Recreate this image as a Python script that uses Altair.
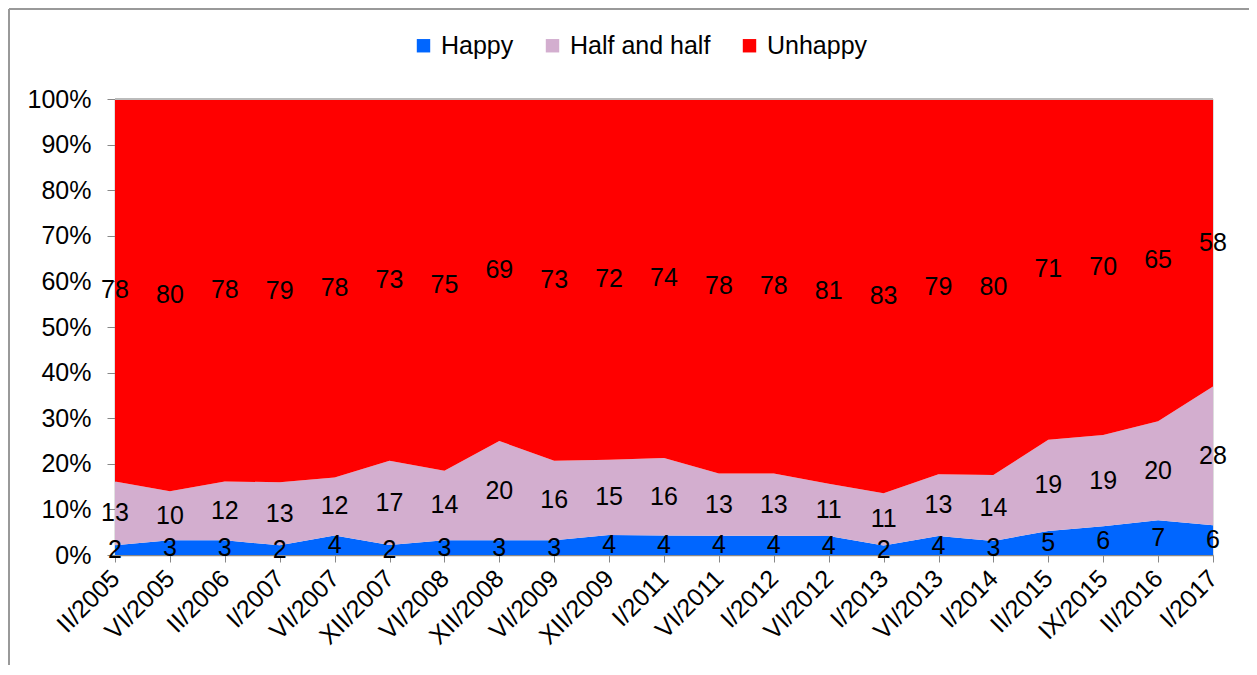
import altair as alt
import pandas as pd

categories = ["II/2005", "VI/2005", "II/2006", "I/2007", "VI/2007", "XII/2007", "VI/2008",
              "XII/2008", "VI/2009", "XII/2009", "I/2011", "VI/2011", "I/2012", "VI/2012",
              "I/2013", "VI/2013", "I/2014", "II/2015", "IX/2015", "II/2016", "I/2017"]
happy = [2, 3, 3, 2, 4, 2, 3, 3, 3, 4, 4, 4, 4, 4, 2, 4, 3, 5, 6, 7, 6]
half = [13, 10, 12, 13, 12, 17, 14, 20, 16, 15, 16, 13, 13, 11, 11, 13, 14, 19, 19, 20, 28]
unhappy = [78, 80, 78, 79, 78, 73, 75, 69, 73, 72, 74, 78, 78, 81, 83, 79, 80, 71, 70, 65, 58]

series_names = ["Happy", "Half and half", "Unhappy"]
series_values = [happy, half, unhappy]
colors = ["#0066FF", "#D3AECF", "#FF0000"]

rows = []
for i, cat in enumerate(categories):
    total = sum(s[i] for s in series_values)
    cum = 0
    for k, (name, vals) in enumerate(zip(series_names, series_values)):
        v = vals[i]
        rows.append({"cat": cat, "series": name, "order": k, "value": v,
                     "mid": (cum + v / 2) / total})
        cum += v
df = pd.DataFrame(rows)

FONT = "Liberation Sans"
W, H = 1098, 456

x_enc = alt.X("cat:N", sort=categories,
              scale=alt.Scale(type="point", padding=0),
              axis=alt.Axis(title=None, labelAngle=-45, labelAlign="right",
                            labelBaseline="middle", labelFontSize=25, labelColor="black",
                            labelPadding=12, tickSize=7, tickColor="#888888",
                            domainColor="#888888", domainWidth=1.5, labelFont=FONT))

area = alt.Chart(df).mark_area(opacity=1).encode(
    x=x_enc,
    y=alt.Y("value:Q", stack="normalize",
            scale=alt.Scale(domain=[0, 1]),
            axis=alt.Axis(title=None, format="%", values=[i / 10 for i in range(11)],
                          labelFontSize=25, labelColor="black", labelFont=FONT,
                          tickSize=8, tickColor="#888888", domainColor="#888888",
                          domainWidth=1.5, grid=False, labelPadding=16)),
    color=alt.Color("series:N", sort=series_names,
                    scale=alt.Scale(domain=series_names, range=colors),
                    legend=alt.Legend(title=None, orient="none", direction="horizontal",
                                      legendX=296, legendY=-66, symbolType="square",
                                      symbolSize=180, symbolStrokeWidth=0,
                                      labelFontSize=25, labelFont=FONT, labelColor="black",
                                      columnPadding=26, symbolOffset=0, labelOffset=5)),
    order=alt.Order("order:Q", sort="ascending"),
)

top_line = alt.Chart(pd.DataFrame({"y": [1.0]})).mark_rule(
    color="#BBBBBB", strokeWidth=2
).encode(y=alt.Y("y:Q", scale=alt.Scale(domain=[0, 1])))

labels = alt.Chart(df).mark_text(fontSize=25, font=FONT, color="black").encode(
    x=alt.X("cat:N", sort=categories, scale=alt.Scale(type="point", padding=0)),
    y=alt.Y("mid:Q", scale=alt.Scale(domain=[0, 1])),
    text=alt.Text("value:Q"),
)

frame_src = pd.DataFrame({"f": [0]})
frame_top = alt.Chart(frame_src).mark_rule(color="#999999", strokeWidth=2).encode(
    x=alt.value(-106), x2=alt.value(1200), y=alt.value(-90))
frame_left = alt.Chart(frame_src).mark_rule(color="#999999", strokeWidth=2).encode(
    x=alt.value(-106), y=alt.value(-90), y2=alt.value(640))

chart = (frame_top + frame_left + area + top_line + labels).properties(
    width=W, height=H,
    autosize=alt.AutoSizeParams(type="none"),
    padding={"left": 107, "top": 91, "right": 36, "bottom": 110},
).configure_view(stroke=None).configure(background="white")

chart.save("out.html", embed_options={"renderer": "svg", "actions": False})
